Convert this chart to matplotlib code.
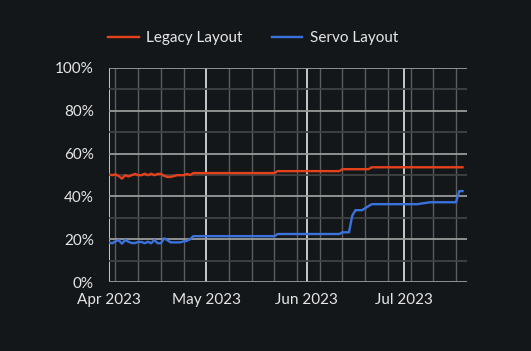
import numpy as np
import pandas as pd
import matplotlib
matplotlib.use('Agg')
import matplotlib.pyplot as plt
import matplotlib.dates as mdates
from matplotlib.ticker import MultipleLocator, PercentFormatter

# Data ==========================================================
start = pd.Timestamp('2023-04-01')

# day offsets from Apr 1 and share (%)
legacy_days = list(range(0, 27)) + [51, 52, 71, 72, 80, 81, 109]
legacy_vals = [50.3, 49.9, 50.3, 49.5, 48.3, 49.9, 49.3, 49.9, 50.5, 49.9,
               49.9, 50.6, 49.9, 50.6, 49.9, 50.5, 50.5, 49.6, 49.1, 49.1,
               49.5, 49.9, 49.9, 49.9, 50.5, 50.0, 50.9,
               50.9, 51.8, 51.8, 52.7, 52.7, 53.6, 53.6]

servo_days = list(range(0, 27)) + [51, 52, 71, 72, 74, 75, 76, 78, 81, 95, 99, 107, 108, 109]
servo_vals = [18.6, 18.2, 19.1, 19.6, 18.0, 19.7, 18.9, 18.3, 18.3, 18.8,
              18.8, 18.2, 18.9, 18.2, 19.7, 18.2, 18.2, 20.5, 19.6, 18.6,
              18.6, 18.6, 18.6, 19.1, 19.3, 20.1, 21.5,
              21.5, 22.5, 22.5, 23.3, 23.3, 31.0, 33.6, 33.6, 36.4, 36.4,
              37.3, 37.3, 42.5, 42.5]

series_names = ['Legacy Layout', 'Servo Layout']
series_colors = ['#e5411b', '#3a72de']

# Plot ==========================================================
bg = '#14171a'
plt.rcParams['font.family'] = ['Lato', 'DejaVu Sans']

fig = plt.figure(figsize=(5.31, 3.51), dpi=100, facecolor=bg)
ax = fig.add_axes([109 / 531, 1 - 282.3 / 351, (466.7 - 109) / 531, (282.3 - 67.7) / 351])
ax.set_facecolor(bg)

legacy_x = [start + pd.Timedelta(days=d) for d in legacy_days]
servo_x = [start + pd.Timedelta(days=d) for d in servo_days]
ax.plot(legacy_x, legacy_vals, color=series_colors[0], lw=1.7, label=series_names[0], zorder=3)
ax.plot(servo_x, servo_vals, color=series_colors[1], lw=1.7, label=series_names[1], zorder=3)

ax.set_ylim(0, 100)
ax.set_xlim(start, start + pd.Timedelta(days=110.3))

ax.yaxis.set_major_locator(MultipleLocator(20))
ax.yaxis.set_minor_locator(MultipleLocator(10))
ax.yaxis.set_major_formatter(PercentFormatter(decimals=0))
ax.xaxis.set_major_locator(mdates.MonthLocator())
ax.xaxis.set_major_formatter(mdates.DateFormatter('%b %Y'))
ax.xaxis.set_minor_locator(mdates.WeekdayLocator(byweekday=mdates.MO))

ax.grid(which='major', axis='y', color='#9a9a9a', lw=1.3)
ax.grid(which='minor', axis='y', color='#404244', lw=1.3)
ax.grid(which='major', axis='x', color='#e6e6e6', lw=1.2)
ax.grid(which='minor', axis='x', color='#5a5c5e', lw=1.0)

for s in ax.spines.values():
    s.set_visible(False)
ax.tick_params(which='both', length=0, colors='#e6e6e6', labelsize=11)
ax.tick_params(axis='y', pad=11)
ax.tick_params(axis='x', pad=8)

fig.legend(loc='center', bbox_to_anchor=(253 / 531, 1 - 38 / 351), ncol=2, frameon=False,
           fontsize=11, labelcolor='#e6e6e6', handlelength=2.0, columnspacing=1.9,
           handletextpad=0.5)

fig.savefig('out.png', dpi=100, facecolor=bg)
